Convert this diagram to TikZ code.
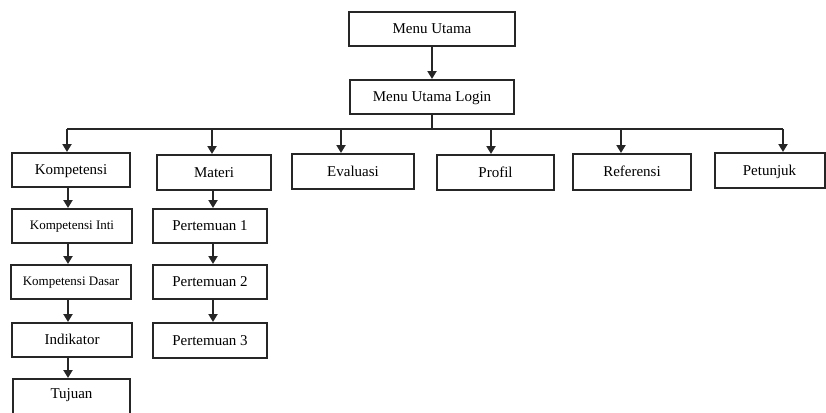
\documentclass[tikz,border=0pt]{standalone}
\usepackage{fontspec}
\setmainfont{Liberation Serif}
\usetikzlibrary{arrows.meta,calc}
\begin{document}
\begin{tikzpicture}[x=1pt,y=-1pt,
  box/.style={draw=black!85,line width=2pt,inner sep=0pt,minimum height=34pt,text height=10pt,text depth=1pt,font=\fontsize{15}{18}\selectfont},
  smallbox/.style={box,font=\fontsize{13}{16}\selectfont,text height=8.5pt,text depth=1pt},
  link/.style={line width=2pt,draw=black!85},
  arr/.style={link,-{Triangle[width=9pt,length=8pt]}}]
\useasboundingbox (0,0) rectangle (826,412);
\begin{scope}
\clip (0,0) rectangle (826,412);
% top
\node[box,minimum width=166pt] (mu) at (432,29) {Menu Utama};
\node[box,minimum width=164pt] (login) at (432,97) {Menu Utama Login};
% row 1
\node[box,minimum width=118pt] (komp) at (71,170) {Kompetensi};
\node[box,minimum width=114pt,minimum height=35pt] (materi) at (214,172.5) {Materi};
\node[box,minimum width=122pt,minimum height=35pt] (eval) at (353,171.5) {Evaluasi};
\node[box,minimum width=117pt,minimum height=35pt] (profil) at (495.5,172.5) {Profil};
\node[box,minimum width=118pt,minimum height=36pt] (ref) at (632,172) {Referensi};
\node[box,minimum width=110pt,minimum height=35pt] (pet) at (769.5,170.5) {Petunjuk};
% Kompetensi column
\node[smallbox,minimum width=120pt] (ki) at (72,226) {Kompetensi Inti};
\node[smallbox,minimum width=120pt] (kd) at (71,282) {Kompetensi Dasar};
\node[box,minimum width=120pt] (ind) at (72,340) {Indikator};
\node[box,minimum width=117pt,minimum height=38pt] (tuj) at (71.5,398) {};
\node[box,draw=none] (tujt) at (71.5,394) {Tujuan};
% Materi column
\node[box,minimum width=114pt] (p1) at (210,226) {Pertemuan 1};
\node[box,minimum width=114pt] (p2) at (210,282) {Pertemuan 2};
\node[box,minimum width=114pt,minimum height=35pt] (p3) at (210,340.5) {Pertemuan 3};
% connectors
\draw[arr] (mu.south) -- (login.north);
\coordinate (b1) at (67,129);
\coordinate (b2) at (212,129);
\coordinate (b3) at (341,129);
\coordinate (b4) at (491,129);
\coordinate (b5) at (621,129);
\coordinate (b6) at (783,129);
\coordinate (bc) at (432,129);
\draw[link] (login.south) -- (bc);
\draw[link] (b1) -- (b6);
\draw[arr] (b1) -- (b1 |- komp.north);
\draw[arr] (b2) -- (b2 |- materi.north);
\draw[arr] (b3) -- (b3 |- eval.north);
\draw[arr] (b4) -- (b4 |- profil.north);
\draw[arr] (b5) -- (b5 |- ref.north);
\draw[arr] (b6) -- (b6 |- pet.north);
\draw[arr] ([xshift=-3pt]komp.south) -- ([xshift=-4pt]ki.north);
\draw[arr] ([xshift=-4pt]ki.south) -- ([xshift=-3pt]kd.north);
\draw[arr] ([xshift=-3pt]kd.south) -- ([xshift=-4pt]ind.north);
\draw[arr] ([xshift=-4pt]ind.south) -- ([xshift=-3.5pt]tuj.north);
\draw[arr] ([xshift=-1pt]materi.south) -- ([xshift=3pt]p1.north);
\draw[arr] ([xshift=3pt]p1.south) -- ([xshift=3pt]p2.north);
\draw[arr] ([xshift=3pt]p2.south) -- ([xshift=3pt]p3.north);
\end{scope}
\end{tikzpicture}
\end{document}
